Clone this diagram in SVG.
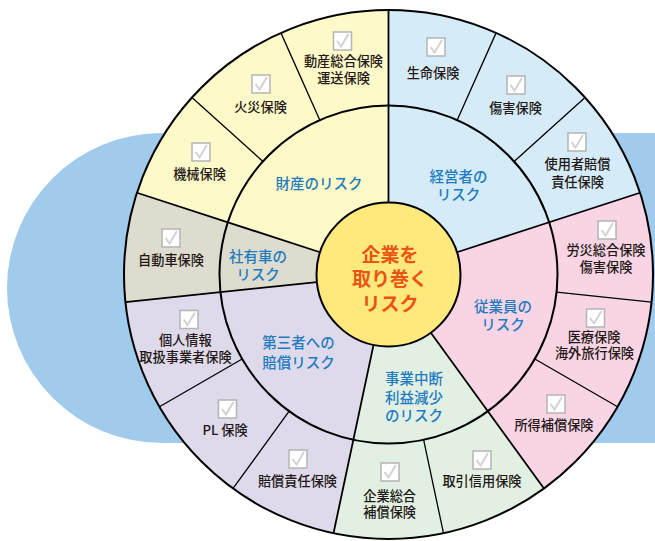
<svg xmlns="http://www.w3.org/2000/svg" xmlns:xlink="http://www.w3.org/1999/xlink" width="655" height="541" viewBox="0 0 655 541">
<style>
.item{font-family:"Noto Sans CJK JP","Noto Sans",sans-serif;font-size:13.2px;fill:#231815;text-anchor:middle;dominant-baseline:central;font-weight:500}
.cat{font-family:"Noto Sans CJK JP","Noto Sans",sans-serif;font-size:14.5px;fill:#1f7bc0;text-anchor:middle;dominant-baseline:central;font-weight:500}
.core{font-family:"Noto Sans CJK JP","Noto Sans",sans-serif;font-size:19px;fill:#ea5414;text-anchor:middle;dominant-baseline:central;font-weight:700}
.ring{fill:none;stroke:#000;stroke-width:2}
.div{stroke:#000;stroke-width:1.8;fill:none}
.sub{stroke:#000;stroke-width:1.3;fill:none}
</style>
<defs>
<g id="chk"><rect x="-9" y="-9" width="18" height="18" fill="#fff" stroke="#b4b4b4" stroke-width="1.5"/><path d="M-5.5,0 L-1.5,5.5 L6,-7" fill="none" stroke="#d2d2d2" stroke-width="2"/></g>
</defs>
<rect id="bg" x="7" y="133" width="1100" height="310" rx="155" ry="155" fill="#a1cbec"/>

<g id="sector-keiei">
<path d="M388.5,274.5 L388.5,10 A264.5,264.5 0 0 1 640.05,192.76 Z" fill="#d5ebf8"/>
<text class="cat"><tspan x="458.5" y="175">経営者の</tspan><tspan x="458.5" y="193">リスク</tspan></text>
</g>
<g id="sector-jugyoin">
<path d="M388.5,274.5 L640.05,192.76 A264.5,264.5 0 0 1 543.97,488.49 Z" fill="#f8d4e4"/>
<text class="cat"><tspan x="503" y="305">従業員の</tspan><tspan x="503" y="323">リスク</tspan></text>
</g>
<g id="sector-jigyo">
<path d="M388.5,274.5 L543.97,488.49 A264.5,264.5 0 0 1 333.51,533.22 Z" fill="#e1f0e2"/>
<text class="cat"><tspan x="414" y="377">事業中断</tspan><tspan x="414" y="396">利益減少</tspan><tspan x="414" y="414">のリスク</tspan></text>
</g>
<g id="sector-daisansha">
<path d="M388.5,274.5 L333.51,533.22 A264.5,264.5 0 0 1 125.45,302.15 Z" fill="#dedaec"/>
<text class="cat"><tspan x="298.5" y="341">第三者への</tspan><tspan x="298.5" y="361">賠償リスク</tspan></text>
</g>
<g id="sector-shayusha">
<path d="M388.5,274.5 L125.45,302.15 A264.5,264.5 0 0 1 136.95,192.76 Z" fill="#dedccf"/>
<text class="cat"><tspan x="258" y="255">社有車の</tspan><tspan x="258" y="273">リスク</tspan></text>
</g>
<g id="sector-zaisan">
<path d="M388.5,274.5 L136.95,192.76 A264.5,264.5 0 0 1 388.5,10 Z" fill="#fef9c9"/>
<text class="cat" x="319" y="182">財産のリスク</text>
</g>

<g id="connectors">
<circle class="ring" cx="388.5" cy="274.5" r="264.5"/>
<circle class="ring" cx="388.5" cy="274.5" r="169"/>
<path class="div" d="M388.5,202.5 L388.5,10 M456.98,252.25 L640.05,192.76 M430.82,332.75 L543.97,488.49 M373.53,344.93 L333.51,533.22 M316.89,282.03 L125.45,302.15 M320.02,252.25 L136.95,192.76"/>
<path class="sub" d="M457.24,120.11 L496.08,32.87 M514.09,161.42 L585.06,97.52 M556.57,292.17 L651.55,302.15 M534.86,359 L617.56,406.75 M423.64,439.81 L443.49,533.22 M289.16,411.22 L233.03,488.49 M242.14,359 L159.44,406.75 M262.91,161.42 L191.94,97.52 M319.76,120.11 L280.92,32.87"/>
</g>

<g id="core">
<circle cx="388.5" cy="274.5" r="72" fill="#ffe97c" stroke="#000" stroke-width="2"/>
<text class="core"><tspan x="390" y="253">企業を</tspan><tspan x="390" y="277">取り巻く</tspan><tspan x="390" y="301.5">リスク</tspan></text>
</g>

<g id="item-dosan"><use xlink:href="#chk" x="342.5" y="41"/><text class="item"><tspan x="343.5" y="60">動産総合保険</tspan><tspan x="343.5" y="77">運送保険</tspan></text></g>
<g id="item-kasai"><use xlink:href="#chk" x="261" y="84"/><text class="item" x="260.5" y="106">火災保険</text></g>
<g id="item-kikai"><use xlink:href="#chk" x="201" y="152"/><text class="item" x="199.5" y="173">機械保険</text></g>
<g id="item-jidosha"><use xlink:href="#chk" x="171" y="238"/><text class="item" x="171" y="259">自動車保険</text></g>
<g id="item-seimei"><use xlink:href="#chk" x="436" y="47"/><text class="item" x="433" y="72">生命保険</text></g>
<g id="item-shogai"><use xlink:href="#chk" x="516" y="85"/><text class="item" x="515.5" y="107">傷害保険</text></g>
<g id="item-shiyosha"><use xlink:href="#chk" x="577" y="142"/><text class="item"><tspan x="577.5" y="163">使用者賠償</tspan><tspan x="577.5" y="181">責任保険</tspan></text></g>
<g id="item-rosai"><use xlink:href="#chk" x="607" y="230"/><text class="item"><tspan x="606" y="249">労災総合保険</tspan><tspan x="606" y="266">傷害保険</tspan></text></g>
<g id="item-iryo"><use xlink:href="#chk" x="595.5" y="318"/><text class="item"><tspan x="594" y="336">医療保険</tspan><tspan x="594.5" y="352">海外旅行保険</tspan></text></g>
<g id="item-shotoku"><use xlink:href="#chk" x="556" y="404"/><text class="item" x="554" y="424">所得補償保険</text></g>
<g id="item-torihiki"><use xlink:href="#chk" x="482" y="460"/><text class="item" x="482" y="480">取引信用保険</text></g>
<g id="item-kigyo"><use xlink:href="#chk" x="390" y="472"/><text class="item"><tspan x="389.7" y="495">企業総合</tspan><tspan x="389.7" y="511">補償保険</tspan></text></g>
<g id="item-baisho"><use xlink:href="#chk" x="298" y="459"/><text class="item" x="297.5" y="480">賠償責任保険</text></g>
<g id="item-pl"><use xlink:href="#chk" x="227.5" y="409"/><text class="item" x="225" y="429">PL 保険</text></g>
<g id="item-kojin"><use xlink:href="#chk" x="189" y="319.5"/><text class="item"><tspan x="185.3" y="339">個人情報</tspan><tspan x="185.5" y="356">取扱事業者保険</tspan></text></g>
</svg>
